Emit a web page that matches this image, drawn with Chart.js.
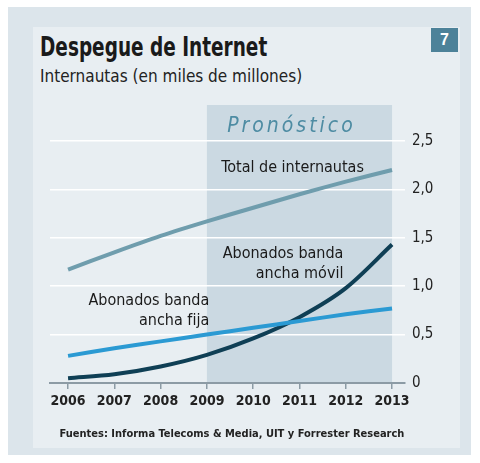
<!DOCTYPE html>
<html lang="es">
<head>
<meta charset="UTF-8">
<title>Despegue de Internet</title>
<script src="https://cdn.jsdelivr.net/npm/chart.js"></script>
<style>
  body { margin: 0; background: #fff; }
  #wrap { position: relative; width: 480px; height: 463px; font-family: 'Liberation Sans Narrow', 'DejaVu Sans Condensed', sans-serif; }
  #outer { position: absolute; left: 8px; top: 7px; width: 463px; height: 448px; background: #dce5eb; }
  #panel { position: absolute; left: 33px; top: 27px; width: 427px; height: 421px; background: #e8eef2; }
  #titulo { position: absolute; left: 40px; top: 32px; font-size: 26px; font-weight: bold; color: #1a1a1a; transform: scaleX(0.79); transform-origin: left; white-space: nowrap; }
  #subtitulo { position: absolute; left: 40px; top: 66px; font-size: 17px; color: #222; }
  #num { position: absolute; left: 431px; top: 28px; width: 27px; height: 24px; background: #4d8299; color: #fff; font: bold 16px 'Liberation Sans', sans-serif; text-align: center; line-height: 24px; }
  #fuente { position: absolute; left: 0; width: 464px; top: 427px; text-align: center; font-size: 11px; font-weight: bold; color: #222; }
  canvas { position: absolute; left: 0; top: 0; }
</style>
</head>
<body>
<div id="wrap">
  <div id="outer"></div>
  <div id="panel"></div>
  <div id="titulo">Despegue de Internet</div>
  <div id="subtitulo">Internautas (en miles de millones)</div>
  <div id="num">7</div>
  <canvas id="grafica" width="480" height="463"></canvas>
  <div id="fuente">Fuentes: Informa Telecoms &amp; Media, UIT y Forrester Research</div>
</div>

<script>
const anios = [2006, 2007, 2008, 2009, 2010, 2011, 2012, 2013];
const totalInternautas = [1.17, 1.35, 1.52, 1.67, 1.81, 1.95, 2.08, 2.20];
const bandaFija = [0.28, 0.36, 0.43, 0.50, 0.57, 0.64, 0.71, 0.77];
const bandaMovil = [0.05, 0.09, 0.17, 0.29, 0.46, 0.68, 0.98, 1.43];
const ticksY = [0, 0.5, 1, 1.5, 2, 2.5];
const inicioPronostico = 2009;
const finPronostico = 2013;

const fuente = "'Liberation Sans Narrow', 'DejaVu Sans Condensed', sans-serif";

function puntos(valores) {
  return anios.map((a, i) => ({ x: a, y: valores[i] }));
}

// etiquetas dentro del grafico: [texto, x (año), y (valor), alineacion]
const etiquetas = [
  [['Total de internautas'], 2010.85, 2.22, 'center'],
  [['Abonados banda', 'ancha móvil'], 2011.95, 1.33, 'right'],
  [['Abonados banda', 'ancha fija'], 2009.05, 0.85, 'right']
];

const fondoPronostico = {
  id: 'fondoPronostico',
  beforeDraw(chart) {
    const { ctx, scales: { x, y } } = chart;
    const x0 = x.getPixelForValue(inicioPronostico);
    const x1 = x.getPixelForValue(finPronostico);
    const y1 = y.getPixelForValue(0);
    const y0 = 105;
    ctx.save();
    ctx.fillStyle = '#cbd9e2';
    ctx.fillRect(x0, y0, x1 - x0, y1 - y0);
    ctx.fillStyle = '#4e8ca3';
    ctx.font = 'italic 21px ' + fuente;
    ctx.textAlign = 'center';
    ctx.textBaseline = 'middle';
    ctx.letterSpacing = '3px';
    ctx.fillText('Pronóstico', (x0 + x1) / 2 - 8, 127);
    ctx.restore();
  },
  afterDatasetsDraw(chart) {
    const { ctx, scales: { x, y } } = chart;
    ctx.save();
    ctx.fillStyle = '#1a1a1a';
    ctx.font = '16px ' + fuente;
    ctx.textBaseline = 'middle';
    etiquetas.forEach(([lineas, ax, ay, al]) => {
      ctx.textAlign = al;
      lineas.forEach((t, i) => {
        ctx.fillText(t, x.getPixelForValue(ax), y.getPixelForValue(ay) + i * 20);
      });
    });
    ctx.restore();
  }
};

new Chart(document.getElementById('grafica'), {
  type: 'line',
  data: {
    datasets: [
      { label: 'Total de internautas', data: puntos(totalInternautas), borderColor: '#6f9dad', borderWidth: 4 },
      { label: 'Abonados banda ancha fija', data: puntos(bandaFija), borderColor: '#2b9ad3', borderWidth: 4 },
      { label: 'Abonados banda ancha móvil', data: puntos(bandaMovil), borderColor: '#0f3f55', borderWidth: 4, cubicInterpolationMode: 'monotone' }
    ]
  },
  options: {
    responsive: false,
    animation: false,
    layout: { padding: { left: 50, top: 141, right: 0, bottom: 0 } },
    elements: { point: { radius: 0 }, line: { tension: 0.3, borderCapStyle: 'butt' } },
    plugins: { legend: { display: false }, tooltip: { enabled: false } },
    scales: {
      x: {
        type: 'linear',
        min: 2005.61,
        max: 2013.28,
        afterBuildTicks: s => { s.ticks = anios.map(v => ({ value: v })); },
        afterFit: s => { s.height = 80; },
        grid: { drawOnChartArea: false, color: '#8c9ba5', tickLength: 6, lineWidth: 1.5 },
        border: { color: '#8c9ba5', width: 2 },
        ticks: { color: '#222', padding: 4, font: { family: fuente, size: 14, weight: 'bold' }, callback: v => String(v) }
      },
      y: {
        position: 'right',
        min: 0,
        max: 2.5,
        afterBuildTicks: s => { s.ticks = ticksY.map(v => ({ value: v })); },
        afterFit: s => { s.width = 75; },
        grid: { color: '#ffffff', lineWidth: 1.5, drawTicks: false },
        border: { display: false },
        ticks: { color: '#222', padding: 7, font: { family: fuente, size: 15 }, callback: v => v === 0 ? '0' : v.toFixed(1).replace('.', ',') }
      }
    }
  },
  plugins: [fondoPronostico]
});
</script>
</body>
</html>
